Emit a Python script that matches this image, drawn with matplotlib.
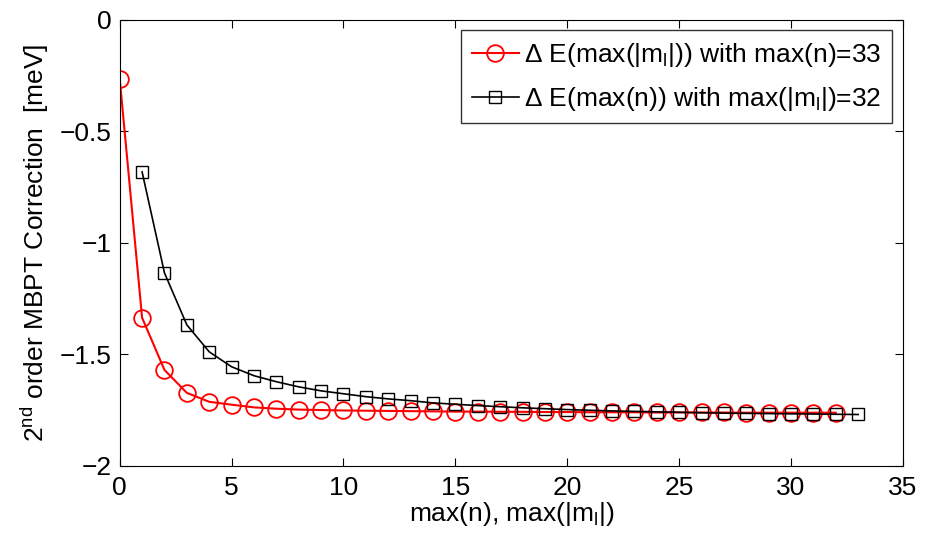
import numpy as np
import matplotlib
matplotlib.use('Agg')
import matplotlib.pyplot as plt

plt.rcParams['font.family'] = ['Liberation Sans', 'DejaVu Sans']
plt.rcParams['mathtext.fontset'] = 'custom'
plt.rcParams['mathtext.rm'] = 'Liberation Sans'
plt.rcParams['mathtext.it'] = 'Liberation Sans'

# Red series: Delta E vs max(|m_l|), max(n)=33
x_ml = list(range(0, 33))
dE_ml = [-0.265, -1.336, -1.570, -1.673, -1.713, -1.726, -1.738, -1.744, -1.748, -1.750,
         -1.752, -1.753, -1.754, -1.755, -1.756, -1.757, -1.757, -1.758, -1.758, -1.759,
         -1.759, -1.760, -1.760, -1.760, -1.761, -1.761, -1.761, -1.761, -1.762, -1.762,
         -1.762, -1.762, -1.762]

# Black series: Delta E vs max(n), max(|m_l|)=32
x_n = list(range(1, 34))
dE_n = [-0.682, -1.135, -1.368, -1.489, -1.556, -1.596, -1.623, -1.646, -1.664, -1.677,
        -1.690, -1.700, -1.708, -1.718, -1.724, -1.730, -1.735, -1.740, -1.744, -1.748,
        -1.751, -1.754, -1.756, -1.758, -1.760, -1.762, -1.764, -1.765, -1.766, -1.767,
        -1.768, -1.769, -1.770]

fs = 19

fig = plt.figure(figsize=(9.28, 5.36), dpi=100)
ax = fig.add_axes([0.129, 0.131, 0.844, 0.832])

ax.plot(x_ml, dE_ml, color='red', linewidth=1.5, marker='o', markersize=12,
        markerfacecolor='none', markeredgewidth=1.3,
        label=r'$\Delta$ E(max(|m$_\mathregular{l}$|)) with max(n)=33')
ax.plot(x_n, dE_n, color='black', linewidth=1.2, marker='s', markersize=9,
        markerfacecolor='none', markeredgewidth=1.0,
        label=r'$\Delta$ E(max(n)) with max(|m$_\mathregular{l}$|)=32')

ax.set_xlim(0, 35)
ax.set_ylim(-2, 0)
ax.set_xticks(np.arange(0, 36, 5))
ax.set_yticks([-2, -1.5, -1, -0.5, 0])
ax.set_yticklabels(['\u22122', '\u22121.5', '\u22121', '\u22120.5', '0'])
ax.tick_params(direction='in', length=6, labelsize=fs, top=True, right=True)
ax.tick_params(axis='x', pad=7)
ax.tick_params(axis='y', pad=6)
ax.set_xlabel('max(n), max(|m$_\\mathregular{l}$|)', fontsize=fs, labelpad=0)
ax.set_ylabel('2$^\\mathregular{nd}$ order MBPT Correction  [meV]', fontsize=fs, labelpad=6)

leg = ax.legend(loc='upper right', fontsize=fs, frameon=True, fancybox=False,
                edgecolor='black', handlelength=1.8, borderaxespad=0.4,
                handletextpad=0.2, labelspacing=0.6, borderpad=0.4)
leg.get_frame().set_linewidth(1.0)

plt.savefig('out.png', dpi=100)
